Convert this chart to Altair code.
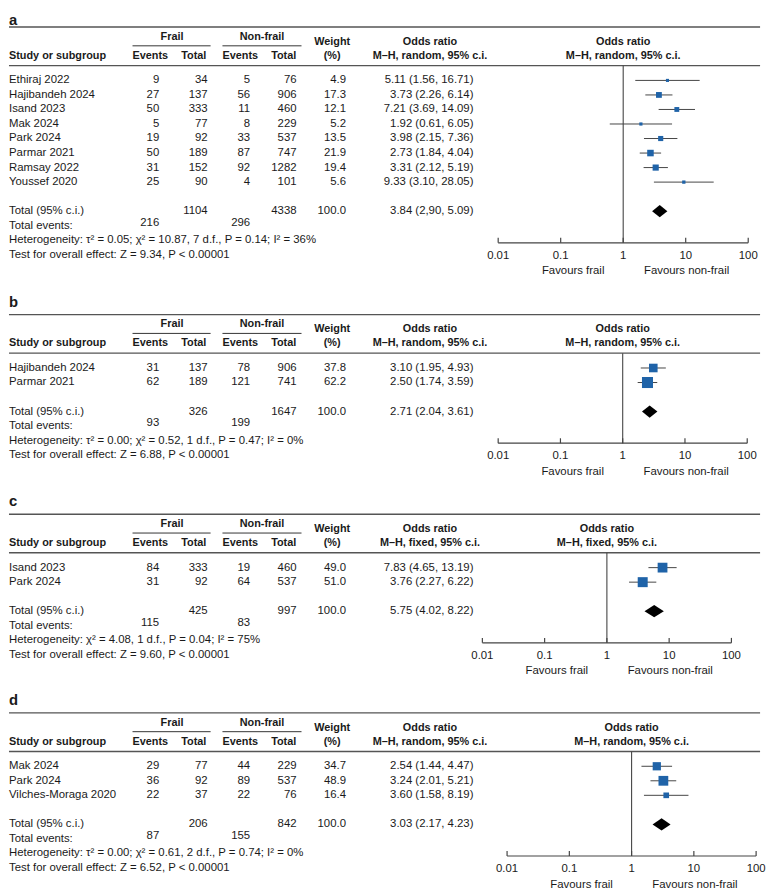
import altair as alt
import pandas as pd

FONT = "Liberation Sans"
TXT = "#1a1a1a"
BLUE = "#1f63a8"
LINE = "#444444"

# ---------------- data ----------------
# panel a
a_studies = ["Ethiraj 2022", "Hajibandeh 2024", "Isand 2023", "Mak 2024",
             "Park 2024", "Parmar 2021", "Ramsay 2022", "Youssef 2020"]
a_fe = [9, 27, 50, 5, 19, 50, 31, 25]
a_ft = [34, 137, 333, 77, 92, 189, 152, 90]
a_ne = [5, 56, 11, 8, 33, 87, 92, 4]
a_nt = [76, 906, 460, 229, 537, 747, 1282, 101]
a_w = [4.9, 17.3, 12.1, 5.2, 13.5, 21.9, 19.4, 5.6]
a_or = [5.11, 3.73, 7.21, 1.92, 3.98, 2.73, 3.31, 9.33]
a_lo = [1.56, 2.26, 3.69, 0.61, 2.15, 1.84, 2.12, 3.10]
a_hi = [16.71, 6.14, 14.09, 6.05, 7.36, 4.04, 5.19, 28.05]
a_tot = [1104, 4338]
a_ev = [216, 296]
a_pool = [3.84, 2.90, 5.09]
a_pool_txt = "3.84 (2,90, 5.09)"
a_het = "Heterogeneity: τ² = 0.05; χ² = 10.87, 7 d.f., P = 0.14; I² = 36%"
a_test = "Test for overall effect: Z = 9.34, P < 0.00001"

# panel b
b_studies = ["Hajibandeh 2024", "Parmar 2021"]
b_fe = [31, 62]
b_ft = [137, 189]
b_ne = [78, 121]
b_nt = [906, 741]
b_w = [37.8, 62.2]
b_or = [3.10, 2.50]
b_lo = [1.95, 1.74]
b_hi = [4.93, 3.59]
b_tot = [326, 1647]
b_ev = [93, 199]
b_pool = [2.71, 2.04, 3.61]
b_pool_txt = "2.71 (2.04, 3.61)"
b_het = "Heterogeneity: τ² = 0.00; χ² = 0.52, 1 d.f., P = 0.47; I² = 0%"
b_test = "Test for overall effect: Z = 6.88, P < 0.00001"

# panel c
c_studies = ["Isand 2023", "Park 2024"]
c_fe = [84, 31]
c_ft = [333, 92]
c_ne = [19, 64]
c_nt = [460, 537]
c_w = [49.0, 51.0]
c_or = [7.83, 3.76]
c_lo = [4.65, 2.27]
c_hi = [13.19, 6.22]
c_tot = [425, 997]
c_ev = [115, 83]
c_pool = [5.75, 4.02, 8.22]
c_pool_txt = "5.75 (4.02, 8.22)"
c_het = "Heterogeneity: χ² = 4.08, 1 d.f., P = 0.04; I² = 75%"
c_test = "Test for overall effect: Z = 9.60, P < 0.00001"

# panel d
d_studies = ["Mak 2024", "Park 2024", "Vilches-Moraga 2020"]
d_fe = [29, 36, 22]
d_ft = [77, 92, 37]
d_ne = [44, 89, 22]
d_nt = [229, 537, 76]
d_w = [34.7, 48.9, 16.4]
d_or = [2.54, 3.24, 3.60]
d_lo = [1.44, 2.01, 1.58]
d_hi = [4.47, 5.21, 8.19]
d_tot = [206, 842]
d_ev = [87, 155]
d_pool = [3.03, 2.17, 4.23]
d_pool_txt = "3.03 (2.17, 4.23)"
d_het = "Heterogeneity: τ² = 0.00; χ² = 0.61, 2 d.f., P = 0.74; I² = 0%"
d_test = "Test for overall effect: Z = 6.52, P < 0.00001"

tick_vals = [0.01, 0.1, 1, 10, 100]
tick_labels = ["0.01", "0.1", "1", "10", "100"]

FS = 11.5   # body text size
HS = 11     # bold header size


def one(**kw):
    return pd.DataFrame({k: [v] for k, v in kw.items()})


def panel(letter, model, studies, fe, ft, ne, nt, w, orv, lo, hi, tot, ev,
          pool, pool_txt, het, test, height, L, frange):
    n = len(studies)
    first = L + 67
    step = 14.7
    rows = []
    for i in range(n):
        rows.append(dict(slot=i, label=studies[i], fe=str(fe[i]), ft=str(ft[i]),
                         ne=str(ne[i]), nt=str(nt[i]), w=f"{w[i]:.1f}",
                         ort=f"{orv[i]:.2f} ({lo[i]:.2f}, {hi[i]:.2f})"))
    rows.append(dict(slot=n + 1, label="Total (95% c.i.)", fe="", ft=str(tot[0]),
                     ne="", nt=str(tot[1]), w="100.0", ort=pool_txt))
    rows.append(dict(slot=n + 2, label="Total events:", fe="", ft="",
                     ne="", nt="", w="", ort=""))
    rows.append(dict(slot=n + 3, label=het, fe="", ft="", ne="", nt="", w="", ort=""))
    rows.append(dict(slot=n + 4, label=test, fe="", ft="", ne="", nt="", w="", ort=""))
    tbl = pd.DataFrame(rows)
    evt = pd.DataFrame(dict(slot=[n + 1.8], fe=[str(ev[0])], ne=[str(ev[1])]))

    forest = pd.DataFrame(dict(slot=list(range(n)), orv=orv, lo=lo, hi=hi, w=w))
    s = n + 1
    dia = pd.DataFrame(dict(x=[pool[1], pool[0], pool[2]],
                            ya=[s, s - 0.42, s], yb=[s, s + 0.42, s]))
    ticks = pd.DataFrame(dict(v=tick_vals, lab=tick_labels))

    yscale = alt.Scale(domain=[0, 10], range=[first, first + 10 * step], nice=False, zero=False)
    Y = alt.Y("slot:Q", scale=yscale, axis=None)
    fscale = alt.Scale(type="log", domain=[0.01, 100], range=frange, nice=False)

    def FX(f):
        return alt.X(f, scale=fscale, axis=None)

    axis_y = first + (n + 1) * step + 32
    layers = []

    def txt(df, field, x, y, align="left", bold=False, size=FS, dx=0):
        return alt.Chart(df).mark_text(
            align=align, baseline="middle", font=FONT, fontSize=size, color=TXT,
            fontWeight="bold" if bold else "normal", dx=dx
        ).encode(x=x, y=y, text=f"{field}:N")

    def hrule(x1, x2, y, width=1.0, color=LINE):
        return alt.Chart(one(k=0)).mark_rule(color=color, strokeWidth=width).encode(
            x=alt.value(x1), x2=alt.value(x2), y=alt.value(y))

    # panel letter
    layers.append(txt(one(t=letter), "t", alt.value(0), alt.value(max(L, 7)), bold=True, size=15))
    # rules
    layers.append(hrule(0, 760, L + 13, 1.4, "#555555"))
    layers.append(hrule(0, 760, L + 52, 1.4, "#555555"))
    layers.append(hrule(125, 204, L + 32, 1.0, "#333333"))
    layers.append(hrule(216, 296, L + 32, 1.0, "#333333"))
    # headers
    layers.append(txt(one(t="Frail"), "t", alt.value(165), alt.value(L + 23), "center", True, HS))
    layers.append(txt(one(t="Non-frail"), "t", alt.value(256), alt.value(L + 23), "center", True, HS))
    layers.append(txt(one(t="Weight"), "t", alt.value(327), alt.value(L + 28), "center", True, HS))
    layers.append(txt(one(t="(%)"), "t", alt.value(327), alt.value(L + 42), "center", True, HS))
    layers.append(txt(one(t="Study or subgroup"), "t", alt.value(0), alt.value(L + 42), "left", True, HS))
    layers.append(txt(one(t="Events"), "t", alt.value(143), alt.value(L + 42), "center", True, HS))
    layers.append(txt(one(t="Total"), "t", alt.value(187), alt.value(L + 42), "center", True, HS))
    layers.append(txt(one(t="Events"), "t", alt.value(234), alt.value(L + 42), "center", True, HS))
    layers.append(txt(one(t="Total"), "t", alt.value(278), alt.value(L + 42), "center", True, HS))
    sub = f"M\u2013H, {model}, 95% c.i."
    layers.append(txt(one(t="Odds ratio"), "t", alt.value(426), alt.value(L + 28), "center", True, HS))
    layers.append(txt(one(t=sub), "t", alt.value(426), alt.value(L + 42), "center", True, HS))
    layers.append(txt(one(v=1, t="Odds ratio"), "t", FX("v:Q"), alt.value(L + 28), "center", True, HS))
    layers.append(txt(one(v=1, t=sub), "t", FX("v:Q"), alt.value(L + 42), "center", True, HS))
    # table body
    layers.append(txt(tbl, "label", alt.value(0), Y, "left"))
    layers.append(txt(tbl, "fe", alt.value(152), Y, "right"))
    layers.append(txt(tbl, "ft", alt.value(201), Y, "right"))
    layers.append(txt(tbl, "ne", alt.value(244), Y, "right"))
    layers.append(txt(tbl, "nt", alt.value(291), Y, "right"))
    layers.append(txt(tbl, "w", alt.value(341), Y, "right"))
    layers.append(txt(tbl, "ort", alt.value(470), Y, "right"))
    layers.append(txt(evt, "fe", alt.value(152), Y, "right"))
    layers.append(txt(evt, "ne", alt.value(244), Y, "right"))
    # forest
    layers.append(alt.Chart(one(v=1)).mark_rule(color=LINE, strokeWidth=1.1).encode(
        x=FX("v:Q"), y=alt.value(L + 52), y2=alt.value(axis_y)))
    layers.append(alt.Chart(forest).mark_rule(color=LINE, strokeWidth=1).encode(
        x=FX("lo:Q"), x2="hi:Q", y=Y))
    layers.append(alt.Chart(forest).mark_square(filled=True, color=BLUE, opacity=1).encode(
        x=FX("orv:Q"), y=Y,
        size=alt.Size("w:Q", scale=alt.Scale(domain=[0, 100], range=[0, 200]), legend=None)))
    layers.append(alt.Chart(dia).mark_area(color="black", orient="vertical").encode(
        x=FX("x:Q"), y=alt.Y("ya:Q", scale=yscale, axis=None), y2="yb:Q"))
    # axis
    layers.append(alt.Chart(one(a=0.01, b=100)).mark_rule(color=LINE, strokeWidth=1.2).encode(
        x=FX("a:Q"), x2="b:Q", y=alt.value(axis_y)))
    layers.append(alt.Chart(ticks).mark_rule(color=LINE, strokeWidth=1.2).encode(
        x=FX("v:Q"), y=alt.value(axis_y - 5), y2=alt.value(axis_y)))
    layers.append(txt(ticks, "lab", FX("v:Q"), alt.value(axis_y + 13), "center"))
    layers.append(txt(one(v=1, t="Favours frail"), "t", FX("v:Q"), alt.value(axis_y + 29), "right", dx=-19))
    layers.append(txt(one(v=1, t="Favours non-frail"), "t", FX("v:Q"), alt.value(axis_y + 29), "left", dx=21))

    return alt.layer(*layers).properties(width=758, height=height)


pa = panel("a", "random", a_studies, a_fe, a_ft, a_ne, a_nt, a_w, a_or, a_lo, a_hi,
           a_tot, a_ev, a_pool, a_pool_txt, a_het, a_test, 284, 1, [495, 748])
pb = panel("b", "random", b_studies, b_fe, b_ft, b_ne, b_nt, b_w, b_or, b_lo, b_hi,
           b_tot, b_ev, b_pool, b_pool_txt, b_het, b_test, 202, 8, [495, 747])
pc = panel("c", "fixed", c_studies, c_fe, c_ft, c_ne, c_nt, c_w, c_or, c_lo, c_hi,
           c_tot, c_ev, c_pool, c_pool_txt, c_het, c_test, 201, 8, [479, 731])
pd_ = panel("d", "random", d_studies, d_fe, d_ft, d_ne, d_nt, d_w, d_or, d_lo, d_hi,
            d_tot, d_ev, d_pool, d_pool_txt, d_het, d_test, 200, 8, [504, 756])

chart = alt.vconcat(pa, pb, pc, pd_, spacing=0, bounds="flush").properties(
    padding=0
).configure_view(stroke=None)

chart.save("out.html", embed_options={"renderer": "svg", "actions": False})
